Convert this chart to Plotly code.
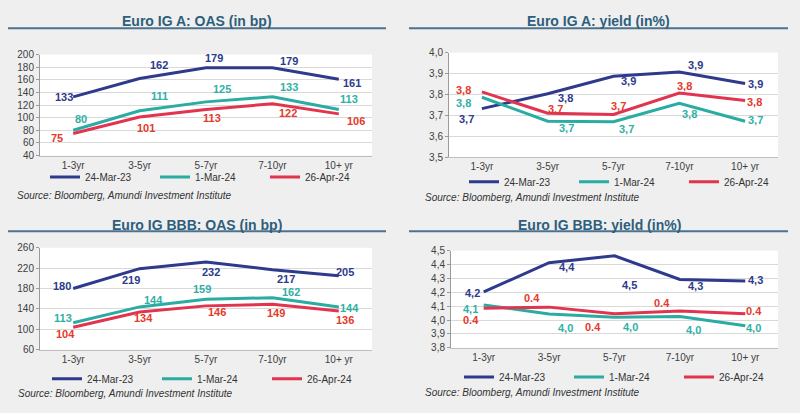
import plotly.graph_objects as go

# ---------------- data ----------------
categories = ["1-3yr", "3-5yr", "5-7yr", "7-10yr", "10+ yr"]
series_names = ["24-Mar-23", "1-Mar-24", "26-Apr-24"]

a_oas_mar23 = [133, 162, 179, 179, 161]
a_oas_mar24 = [80, 111, 125, 133, 113]
a_oas_apr24 = [75, 101, 113, 122, 106]
a_oas_lbl_mar23 = ["133", "162", "179", "179", "161"]
a_oas_lbl_mar24 = ["80", "111", "125", "133", "113"]
a_oas_lbl_apr24 = ["75", "101", "113", "122", "106"]

a_yld_mar23 = [3.733, 3.804, 3.887, 3.907, 3.853]
a_yld_mar24 = [3.787, 3.673, 3.670, 3.758, 3.673]
a_yld_apr24 = [3.813, 3.711, 3.705, 3.807, 3.772]
a_yld_lbl_mar23 = ["3,7", "3,8", "3,9", "3,9", "3,9"]
a_yld_lbl_mar24 = ["3,8", "3,7", "3,7", "3,8", "3,7"]
a_yld_lbl_apr24 = ["3,8", "3,7", "3,7", "3,8", "3,8"]

bbb_oas_mar23 = [180, 219, 232, 217, 205]
bbb_oas_mar24 = [113, 144, 159, 162, 144]
bbb_oas_apr24 = [104, 134, 146, 149, 136]
bbb_oas_lbl_mar23 = ["180", "219", "232", "217", "205"]
bbb_oas_lbl_mar24 = ["113", "144", "159", "162", "144"]
bbb_oas_lbl_apr24 = ["104", "134", "146", "149", "136"]

bbb_yld_mar23 = [4.203, 4.413, 4.463, 4.292, 4.282]
bbb_yld_mar24 = [4.109, 4.043, 4.020, 4.025, 3.959]
bbb_yld_apr24 = [4.085, 4.093, 4.046, 4.065, 4.046]
bbb_yld_lbl_mar23 = ["4,2", "4,4", "4,5", "4,3", "4,3"]
bbb_yld_lbl_mar24 = ["4,1", "4,0", "4,0", "4,0", "4,0"]
bbb_yld_lbl_apr24 = ["0.4", "0.4", "0.4", "0.4", "0.4"]

titles = ["Euro IG A: OAS (in bp)", "Euro IG A: yield (in%)",
          "Euro IG BBB: OAS (in bp)", "Euro IG BBB: yield (in%)"]
source_text = "Source: Bloomberg, Amundi Investment Institute"

# ---------------- style ----------------
W, H = 800, 413
BG = "#efefef"
LINE_COLORS = ["#2e3a8c", "#2aaca2", "#e2334f"]
LABEL_COLORS = ["#2e3a8c", "#31b0a6", "#e53a2c"]
TITLE_COLOR = "#2d5e7c"
FONT = "Liberation Sans, Arial, sans-serif"

def px_x(x):
    return x / W

def px_y(y):
    return (H - y) / H

panels = [
    dict(vals=[a_oas_mar23, a_oas_mar24, a_oas_apr24],
         lbls=[a_oas_lbl_mar23, a_oas_lbl_mar24, a_oas_lbl_apr24],
         x0=40, x1=372, y0=50, y1=154, yrange=[40, 200], tick0=40, dtick=20, fmt="d",
         title_xy=(197, 15), rule=(8, 386, 23), legend_xy=(45, 176), src_xy=(15, 195),
         offs=[[(-9, 0), (19, -14), (8, -10), (17, -7), (13, 4)],
               [(8, -11), (20, -15), (16, -13), (17, -10), (10, -10)],
               [(-16, 5), (6, 11), (6, 9), (16, 9), (17, 7)]]),
    dict(vals=[a_yld_mar23, a_yld_mar24, a_yld_apr24],
         lbls=[a_yld_lbl_mar23, a_yld_lbl_mar24, a_yld_lbl_apr24],
         x0=449, x1=778, y0=48, y1=156, yrange=[3.5, 4.0], tick0=3.5, dtick=0.1, fmt=".1f",
         title_xy=(598, 15), rule=(409, 788, 23), legend_xy=(464, 181), src_xy=(423, 197),
         offs=[[(-15, 10), (18, 4), (15, 5), (16, -7), (10, 1)],
               [(-18, 6), (19, 7), (13, 7), (10, 11), (10, -1)],
               [(-18, -2), (8, -4), (5, -8), (5, -7), (9, 2)]]),
    dict(vals=[bbb_oas_mar23, bbb_oas_mar24, bbb_oas_apr24],
         lbls=[bbb_oas_lbl_mar23, bbb_oas_lbl_mar24, bbb_oas_lbl_apr24],
         x0=40, x1=372, y0=249, y1=354, yrange=[60, 260], tick0=60, dtick=40, fmt="d",
         title_xy=(197, 226), rule=(8, 386, 232), legend_xy=(47, 384), src_xy=(16, 399),
         offs=[[(-11, -3), (-9, 11), (5, 10), (14, 9), (6, -4)],
               [(-10, -5), (14, -7), (-4, -10), (19, -6), (11, 1)],
               [(-8, 7), (4, 6), (11, 6), (4, 9), (6, 9)]]),
    dict(vals=[bbb_yld_mar23, bbb_yld_mar24, bbb_yld_apr24],
         lbls=[bbb_yld_lbl_mar23, bbb_yld_lbl_mar24, bbb_yld_lbl_apr24],
         x0=451, x1=778, y0=252, y1=352, yrange=[3.8, 4.5], tick0=3.8, dtick=0.1, fmt=".1f",
         title_xy=(599, 226), rule=(409, 788, 232), legend_xy=(459, 382), src_xy=(423, 398),
         offs=[[(-11, 1), (18, 4), (15, 29), (16, 6), (10, -1)],
               [(-13, 4), (16, 14), (16, 10), (14, 13), (8, 2)],
               [(-13, 12), (-17, -9), (-22, 13), (-18, -8), (9, -3)]]),
]

fig = go.Figure()
annotations = []
shapes = []
layout_extra = {}

for i, p in enumerate(panels):
    n = i + 1
    xa = "x" if n == 1 else f"x{n}"
    ya = "y" if n == 1 else f"y{n}"
    lg = "legend" if n == 1 else f"legend{n}"
    for s in range(3):
        fig.add_trace(go.Scatter(
            x=categories, y=p["vals"][s], mode="lines", name=series_names[s],
            line=dict(color=LINE_COLORS[s], width=3), xaxis=xa, yaxis=ya,
            legend=lg, hoverinfo="skip"))
        for k in range(len(categories)):
            dx, dy = p["offs"][s][k]
            annotations.append(dict(
                x=categories[k], y=p["vals"][s][k], xref=xa, yref=ya,
                text="<b>" + p["lbls"][s][k] + "</b>", showarrow=False,
                xshift=dx, yshift=-dy,
                font=dict(family=FONT, size=11, color=LABEL_COLORS[s])))
    layout_extra["xaxis" if n == 1 else f"xaxis{n}"] = dict(
        domain=[px_x(p["x0"]), px_x(p["x1"])], anchor=ya,
        type="category", range=[-0.5, 4.5], showgrid=False,
        showline=True, linecolor="#bfbfbf", linewidth=1, ticks="",
        tickfont=dict(family=FONT, size=10, color="#404040"), fixedrange=True)
    layout_extra["yaxis" if n == 1 else f"yaxis{n}"] = dict(
        domain=[px_y(p["y1"]), px_y(p["y0"])], anchor=xa,
        range=p["yrange"], tick0=p["tick0"], dtick=p["dtick"], tickformat=p["fmt"],
        showgrid=True, gridcolor="#d9d9d9", gridwidth=1,
        showline=True, linecolor="#9a9a9a", linewidth=1,
        ticks="outside", ticklen=3, tickcolor="#9a9a9a",
        zeroline=False,
        tickfont=dict(family=FONT, size=10, color="#404040"), fixedrange=True)
    layout_extra[lg] = dict(
        orientation="h", x=px_x(p["legend_xy"][0]), y=px_y(p["legend_xy"][1]),
        xanchor="left", yanchor="middle", bgcolor="rgba(0,0,0,0)",
        itemwidth=30, entrywidth=65, entrywidthmode="pixels",
        font=dict(family=FONT, size=10, color="#333333"), itemclick=False)
    annotations.append(dict(
        x=px_x(p["title_xy"][0]), y=px_y(p["title_xy"][1]), xref="paper", yref="paper",
        text="<b>" + titles[i] + "</b>", showarrow=False, xanchor="center", yanchor="middle",
        font=dict(family=FONT, size=14, color=TITLE_COLOR)))
    shapes.append(dict(
        type="line", xref="paper", yref="paper",
        x0=px_x(p["rule"][0]), x1=px_x(p["rule"][1]),
        y0=px_y(p["rule"][2]), y1=px_y(p["rule"][2]),
        line=dict(color="#4d7290", width=2)))
    annotations.append(dict(
        x=px_x(p["src_xy"][0]), y=px_y(p["src_xy"][1]), xref="paper", yref="paper",
        text="<i>" + source_text + "</i>", showarrow=False, xanchor="left", yanchor="middle",
        font=dict(family=FONT, size=10, color="#333333")))

fig.update_layout(
    width=W, height=H, margin=dict(l=0, r=0, t=0, b=0),
    paper_bgcolor=BG, plot_bgcolor="white",
    separators=", ", showlegend=True,
    annotations=annotations, shapes=shapes, **layout_extra)

fig.write_html("out.html",
               config={"displayModeBar": False, "staticPlot": True},
               post_script="document.body.style.margin='0';document.body.style.background='#efefef';")
